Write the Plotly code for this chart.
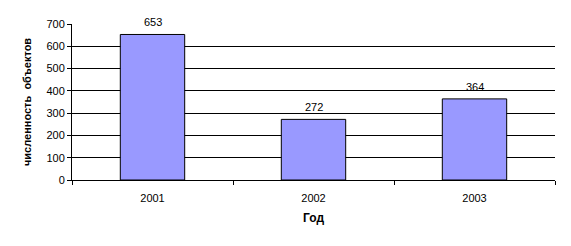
import plotly.graph_objects as go

years = ["2001", "2002", "2003"]
counts = [653, 272, 364]
y_ticks = [0, 100, 200, 300, 400, 500, 600, 700]

FONT = "Liberation Sans, Arial, sans-serif"

fig = go.Figure()
fig.add_trace(go.Bar(
    x=years, y=counts,
    marker=dict(color="#9999FF", line=dict(color="#000000", width=1)),
    width=0.4,
))
for i, v in enumerate(counts):
    fig.add_annotation(x=i, y=v, text=str(v), showarrow=False, yanchor="bottom",
                       yshift=4, font=dict(family=FONT, size=11, color="#000"))

fig.update_layout(
    width=571, height=246,
    margin=dict(l=72, r=16, t=24, b=66),
    paper_bgcolor="white", plot_bgcolor="white",
    showlegend=False,
    font=dict(family=FONT, size=11, color="#000"),
)
fig.update_xaxes(
    type="category", range=[-0.5, len(years) - 0.5],
    tickson="boundaries", ticks="outside", ticklen=4, tickcolor="#000",
    ticklabelstandoff=8,
    showline=True, linecolor="#000", linewidth=1, showgrid=False,
    tickfont=dict(family=FONT, size=11),
    title=dict(text="<b>Год</b>", font=dict(family=FONT, size=12), standoff=10),
)
fig.update_yaxes(
    range=[0, 700], tickvals=y_ticks, ticks="outside", ticklen=4, tickcolor="#000",
    showline=True, linecolor="#000", linewidth=1,
    showgrid=True, gridcolor="#000", gridwidth=1, zeroline=False,
    tickfont=dict(family=FONT, size=11),
    title=dict(text="<b>численность  объектов</b>", font=dict(family=FONT, size=11), standoff=12),
)
fig.write_html("out.html")
